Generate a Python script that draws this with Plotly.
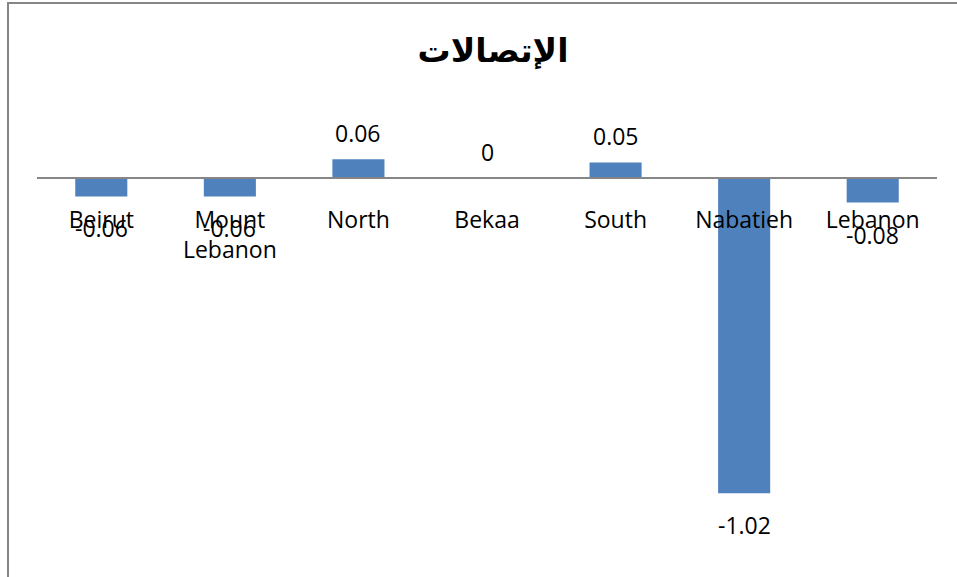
import plotly.graph_objects as go

categories = ["Beirut", "Mount<br>Lebanon", "North", "Bekaa", "South", "Nabatieh", "Lebanon"]
values = [-0.06, -0.06, 0.06, 0, 0.05, -1.02, -0.08]
labels = [f"{v:g}" for v in values]
title_text = "الإتصالات"

BAR_COLOR = "#4F81BD"
FONT = "Open Sans"
FSIZE = 23

fig = go.Figure()
fig.add_trace(go.Bar(x=categories, y=values, marker=dict(color=BAR_COLOR, line=dict(width=0)),
                     hoverinfo="skip"))

for c, v, t in zip(categories, values, labels):
    fig.add_annotation(x=c, y=v, text=t, showarrow=False, yanchor="middle",
                       yshift=26 if v >= 0 else -32,
                       font=dict(family=FONT, size=FSIZE, color="#000000"))

y_lo, y_hi = -1.2, 0.2
fig.update_layout(
    width=957, height=577,
    margin=dict(l=37, r=20, t=116, b=28),
    paper_bgcolor="white", plot_bgcolor="white",
    bargap=0.595,
    showlegend=False,
    title=dict(text=f"<b>{title_text}</b>", x=493/957, xanchor="center", y=1-50/577, yanchor="middle",
               font=dict(family="DejaVu Sans", size=33, color="#000000")),
    xaxis=dict(anchor="free", position=(0 - y_lo) / (y_hi - y_lo),
               showline=True, linecolor="#868686", linewidth=2,
               ticks="outside", ticklen=22, tickcolor="rgba(0,0,0,0)",
               tickfont=dict(family=FONT, size=FSIZE, color="#000000"),
               showgrid=False, zeroline=False),
    yaxis=dict(range=[y_lo, y_hi], visible=False, showgrid=False, zeroline=False),
    shapes=[dict(type="rect", xref="paper", yref="paper",
                 x0=(8 - 37) / 900, x1=1.2, y0=-0.3, y1=1 + (116 - 3) / 433,
                 line=dict(color="#868686", width=2), fillcolor="rgba(0,0,0,0)", layer="below")],
)

fig.write_html("out.html", config={"displayModeBar": False},
               post_script="document.body.style.margin='0';document.body.style.overflow='hidden';")
